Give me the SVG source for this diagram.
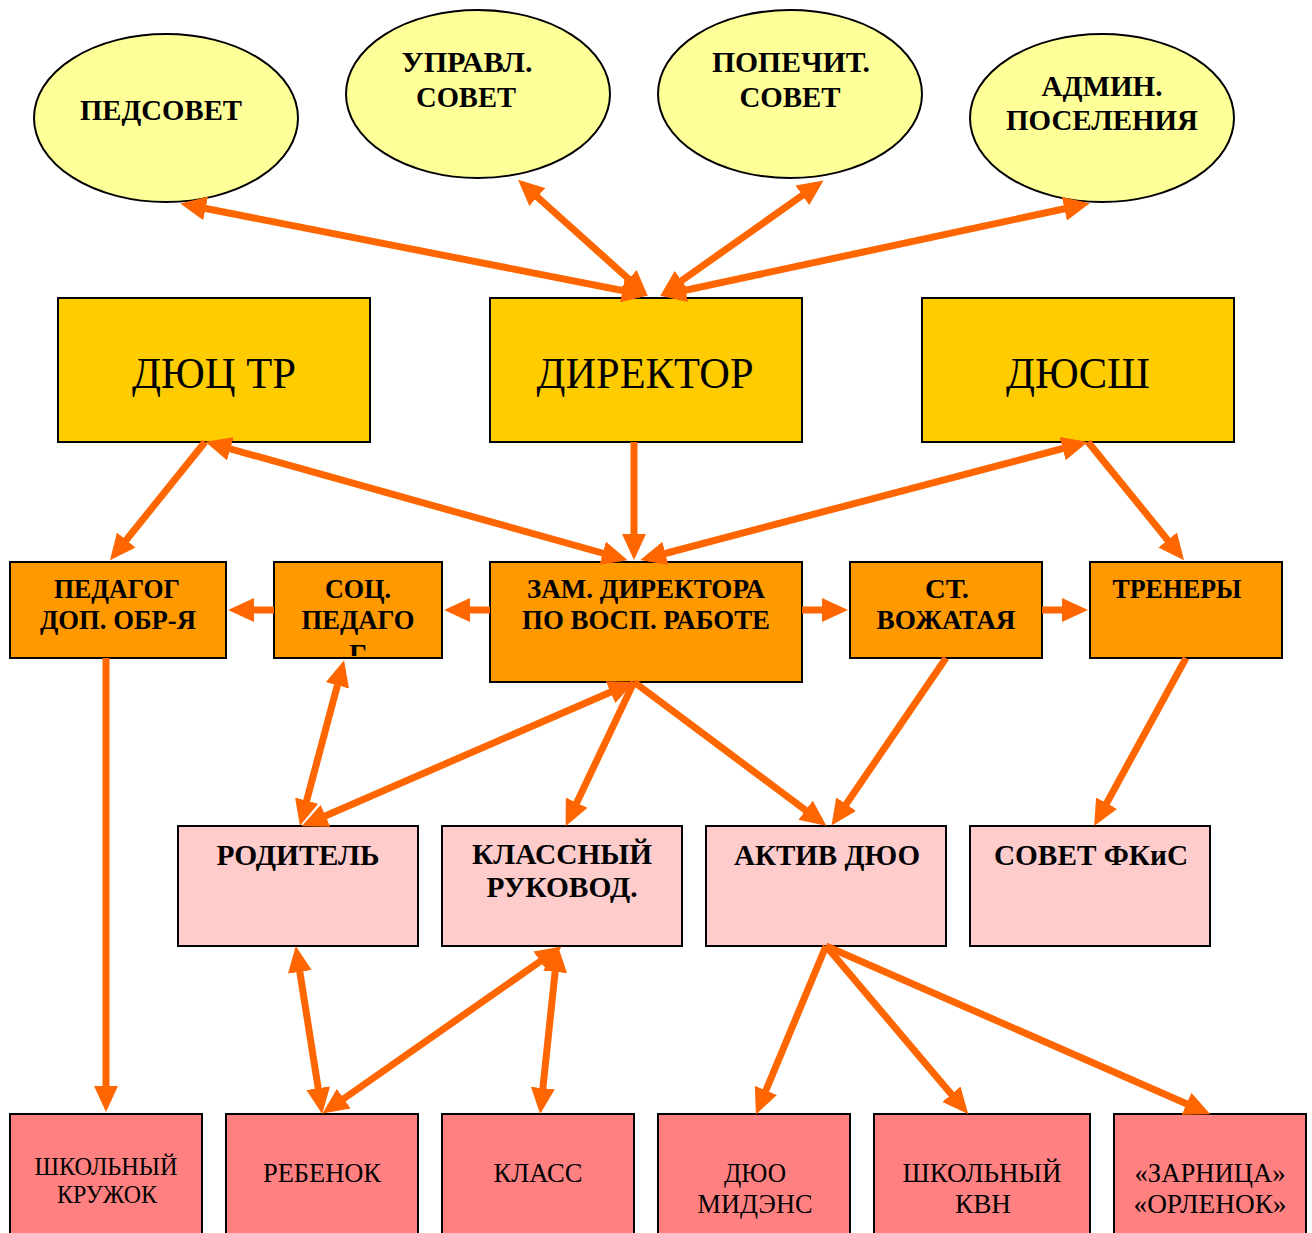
<svg xmlns="http://www.w3.org/2000/svg" width="1312" height="1233" viewBox="0 0 1312 1233">
<defs>
<style>
.el{fill:#FFFF99;stroke:#000;stroke-width:2}
.y{fill:#FFCC00;stroke:#000;stroke-width:2}
.o{fill:#FF9900;stroke:#000;stroke-width:2}
.p{fill:#FFCCCC;stroke:#000;stroke-width:2}
.r{fill:#FF8080;stroke:#000;stroke-width:2}
text{font-family:"Liberation Serif","Times New Roman",serif;fill:#000;text-anchor:middle}
.b28{font-size:30px;font-weight:bold}
.b26{font-size:28px;font-weight:bold}
.n42{font-size:45px}
.n26{font-size:28px}
.n24{font-size:26px}
#connectors line{stroke:#FF6600;stroke-width:7;fill:none}
.s{marker-end:url(#ah)}
.d{marker-end:url(#ah);marker-start:url(#ah)}
</style>
<marker id="ah" viewBox="0 0 26 24" refX="18" refY="12" markerWidth="26" markerHeight="24" markerUnits="userSpaceOnUse" orient="auto-start-reverse">
<path d="M0,0 L26,12 L0,24 Z" fill="#FF6600"/>
</marker>
<clipPath id="socClip"><rect x="274" y="562" width="168" height="94"/></clipPath>
</defs>
<rect width="1312" height="1233" fill="#fff"/>

<g id="pedsovet"><ellipse class="el" cx="166" cy="118" rx="132" ry="84"/><text class="b28" x="161" y="120" textLength="162" lengthAdjust="spacingAndGlyphs">ПЕДСОВЕТ</text></g>
<g id="uprav"><ellipse class="el" cx="478" cy="94" rx="132" ry="84"/><text class="b28" x="467" y="72" textLength="131" lengthAdjust="spacingAndGlyphs">УПРАВЛ.</text><text class="b28" x="466" y="107" textLength="100" lengthAdjust="spacingAndGlyphs">СОВЕТ</text></g>
<g id="popech"><ellipse class="el" cx="790" cy="94" rx="132" ry="84"/><text class="b28" x="791" y="72" textLength="158" lengthAdjust="spacingAndGlyphs">ПОПЕЧИТ.</text><text class="b28" x="790" y="107" textLength="101" lengthAdjust="spacingAndGlyphs">СОВЕТ</text></g>
<g id="admin"><ellipse class="el" cx="1102" cy="118" rx="132" ry="84"/><text class="b28" x="1102" y="96" textLength="121" lengthAdjust="spacingAndGlyphs">АДМИН.</text><text class="b28" x="1102" y="130" textLength="192" lengthAdjust="spacingAndGlyphs">ПОСЕЛЕНИЯ</text></g>

<g id="ductr"><rect class="y" x="58" y="298" width="312" height="144"/><text class="n42" x="214" y="388" textLength="164" lengthAdjust="spacingAndGlyphs">ДЮЦ ТР</text></g>
<g id="director"><rect class="y" x="490" y="298" width="312" height="144"/><text class="n42" x="645" y="388" textLength="217" lengthAdjust="spacingAndGlyphs">ДИРЕКТОР</text></g>
<g id="dussh"><rect class="y" x="922" y="298" width="312" height="144"/><text class="n42" x="1078" y="388" textLength="144" lengthAdjust="spacingAndGlyphs">ДЮСШ</text></g>

<g id="pedagog"><rect class="o" x="10" y="562" width="216" height="96"/><text class="b26" x="117" y="598" textLength="126" lengthAdjust="spacingAndGlyphs">ПЕДАГОГ</text><text class="b26" x="118" y="629" textLength="156" lengthAdjust="spacingAndGlyphs">ДОП. ОБР-Я</text></g>
<g id="socped"><rect class="o" x="274" y="562" width="168" height="96"/><text class="b26" x="358" y="598" textLength="66" lengthAdjust="spacingAndGlyphs">СОЦ.</text><text class="b26" x="358" y="629" textLength="113" lengthAdjust="spacingAndGlyphs">ПЕДАГО</text><text class="b26" x="358" y="663" clip-path="url(#socClip)">Г</text></g>
<g id="zam"><rect class="o" x="490" y="562" width="312" height="120"/><text class="b26" x="646" y="598" textLength="238" lengthAdjust="spacingAndGlyphs">ЗАМ. ДИРЕКТОРА</text><text class="b26" x="646" y="629" textLength="248" lengthAdjust="spacingAndGlyphs">ПО ВОСП. РАБОТЕ</text></g>
<g id="vozh"><rect class="o" x="850" y="562" width="192" height="96"/><text class="b26" x="947" y="598" textLength="44" lengthAdjust="spacingAndGlyphs">СТ.</text><text class="b26" x="946" y="629" textLength="139" lengthAdjust="spacingAndGlyphs">ВОЖАТАЯ</text></g>
<g id="trenery"><rect class="o" x="1090" y="562" width="192" height="96"/><text class="b26" x="1177" y="598" textLength="129" lengthAdjust="spacingAndGlyphs">ТРЕНЕРЫ</text></g>

<g id="roditel"><rect class="p" x="178" y="826" width="240" height="120"/><text class="b28" x="298" y="865" textLength="163" lengthAdjust="spacingAndGlyphs">РОДИТЕЛЬ</text></g>
<g id="klruk"><rect class="p" x="442" y="826" width="240" height="120"/><text class="b28" x="562" y="864" textLength="180" lengthAdjust="spacingAndGlyphs">КЛАССНЫЙ</text><text class="b28" x="562" y="897" textLength="151" lengthAdjust="spacingAndGlyphs">РУКОВОД.</text></g>
<g id="aktiv"><rect class="p" x="706" y="826" width="240" height="120"/><text class="b28" x="827" y="865" textLength="186" lengthAdjust="spacingAndGlyphs">АКТИВ ДЮО</text></g>
<g id="sovetfkis"><rect class="p" x="970" y="826" width="240" height="120"/><text class="b28" x="1091" y="865" textLength="194" lengthAdjust="spacingAndGlyphs">СОВЕТ ФКиС</text></g>

<g id="kruzhok"><rect class="r" x="10" y="1114" width="192" height="130"/><text class="n24" x="106" y="1175" textLength="143" lengthAdjust="spacingAndGlyphs">ШКОЛЬНЫЙ</text><text class="n24" x="107" y="1203" textLength="100" lengthAdjust="spacingAndGlyphs">КРУЖОК</text></g>
<g id="rebenok"><rect class="r" x="226" y="1114" width="192" height="130"/><text class="n26" x="322" y="1182" textLength="118" lengthAdjust="spacingAndGlyphs">РЕБЕНОК</text></g>
<g id="klass"><rect class="r" x="442" y="1114" width="192" height="130"/><text class="n26" x="538" y="1182" textLength="89" lengthAdjust="spacingAndGlyphs">КЛАСС</text></g>
<g id="midens"><rect class="r" x="658" y="1114" width="192" height="130"/><text class="n26" x="755" y="1182" textLength="62" lengthAdjust="spacingAndGlyphs">ДЮО</text><text class="n26" x="755" y="1213" textLength="115" lengthAdjust="spacingAndGlyphs">МИДЭНС</text></g>
<g id="kvn"><rect class="r" x="874" y="1114" width="216" height="130"/><text class="n26" x="982" y="1182" textLength="159" lengthAdjust="spacingAndGlyphs">ШКОЛЬНЫЙ</text><text class="n26" x="983" y="1213" textLength="56" lengthAdjust="spacingAndGlyphs">КВН</text></g>
<g id="zarnica"><rect class="r" x="1114" y="1114" width="192" height="130"/><text class="n26" x="1210" y="1182" textLength="151" lengthAdjust="spacingAndGlyphs">«ЗАРНИЦА»</text><text class="n26" x="1210" y="1213" textLength="153" lengthAdjust="spacingAndGlyphs">«ОРЛЕНОК»</text></g>

<g id="connectors">
<line class="d" x1="188" y1="205" x2="640" y2="294"/>
<line class="d" x1="524" y1="185" x2="642" y2="291"/>
<line class="d" x1="817" y1="185" x2="667" y2="291"/>
<line class="d" x1="1082" y1="205" x2="668" y2="294"/>
<line class="s" x1="205" y1="442" x2="115" y2="554"/>
<line class="d" x1="213" y1="444" x2="620" y2="558"/>
<line class="s" x1="634" y1="442" x2="634" y2="552"/>
<line class="d" x1="1080" y1="444" x2="648" y2="558"/>
<line class="s" x1="1088" y1="442" x2="1179" y2="554"/>
<line class="s" x1="490" y1="610" x2="452" y2="610"/>
<line class="s" x1="274" y1="610" x2="236" y2="610"/>
<line class="s" x1="802" y1="610" x2="840" y2="610"/>
<line class="s" x1="1042" y1="610" x2="1080" y2="610"/>
<line class="s" x1="106" y1="658" x2="106" y2="1104"/>
<line class="d" x1="342" y1="668" x2="302" y2="818"/>
<line class="d" x1="627" y1="685" x2="309" y2="823"/>
<line class="s" x1="634" y1="682" x2="569" y2="819"/>
<line class="s" x1="634" y1="682" x2="820" y2="821"/>
<line class="s" x1="946" y1="658" x2="836" y2="819"/>
<line class="s" x1="1186" y1="658" x2="1098" y2="819"/>
<line class="d" x1="297" y1="954" x2="321" y2="1106"/>
<line class="d" x1="555" y1="951" x2="329" y2="1109"/>
<line class="d" x1="557" y1="954" x2="541" y2="1106"/>
<line class="s" x1="826" y1="946" x2="759" y2="1107"/>
<line class="s" x1="826" y1="946" x2="963" y2="1108"/>
<line class="s" x1="826" y1="946" x2="1203" y2="1111"/>
</g>
</svg>
